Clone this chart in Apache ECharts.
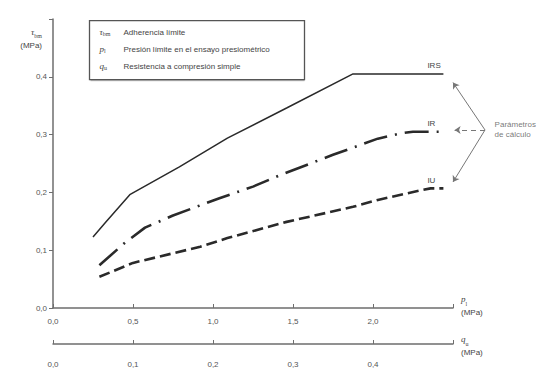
<!DOCTYPE html>
<html>
<head>
<meta charset="utf-8">
<script src="https://cdn.jsdelivr.net/npm/echarts@6/dist/echarts.min.js"></script>
<style>
html, body { margin: 0; padding: 0; background: #fff; }
#main { width: 550px; height: 371px; }
</style>
</head>
<body>
<div id="main"></div>
<script>
// curves: x = p_l (MPa), y = tau_bm (MPa)
const seriesNames = ['IRS', 'IR', 'IU'];
const irsX = [0.25, 0.325, 0.48, 0.79, 1.09, 1.46, 1.875, 2.44];
const irsY = [0.123, 0.147, 0.196, 0.244, 0.294, 0.346, 0.405, 0.405];
const irX = [0.29, 0.45, 0.575, 0.75, 1.04, 1.25, 1.42, 1.75, 2.03, 2.17, 2.25, 2.44];
const irY = [0.074, 0.113, 0.139, 0.16, 0.19, 0.21, 0.23, 0.265, 0.293, 0.302, 0.305, 0.305];
const iuX = [0.29, 0.5, 0.92, 1.09, 1.46, 1.875, 2.03, 2.29, 2.36, 2.44];
const iuY = [0.054, 0.078, 0.106, 0.121, 0.149, 0.175, 0.187, 0.203, 0.207, 0.207];

const plTicks = [0, 0.5, 1, 1.5, 2];
const quTicks = [0, 0.1, 0.2, 0.3, 0.4];
const tauTicks = [0, 0.1, 0.2, 0.3, 0.4];

const legendSymbols = [['τ', 'bm'], ['p', 'l'], ['q', 'u']];
const legendTexts = [
  'Adherencia límite',
  'Presión límite en el ensayo presiométrico',
  'Resistencia a compresión simple'
];

// "Parámetros de cálculo" pointer
const noteText = 'Parámetros\nde cálculo';
const noteApex = [2.7, 0.308];
const noteTargets = [[2.5, 0.39], [2.51, 0.308], [2.5, 0.218]];

const ink = '#2a2a2a';
const axisGray = '#6e6e6e';
const fmt = (v) => v.toFixed(1).replace('.', ',');
const pairs = (xs, ys) => xs.map((x, i) => [x, ys[i]]);

const nameRich = {
  i: { fontSize: 9, color: '#444', fontStyle: 'italic', fontFamily: 'Liberation Serif', lineHeight: 15 },
  s: { fontSize: 6, color: '#444', fontFamily: 'Liberation Serif', verticalAlign: 'bottom', lineHeight: 15 },
  u: { fontSize: 8, color: '#444', fontFamily: 'Liberation Sans', lineHeight: 12 }
};
const tickLabel = { color: '#555', fontSize: 8, fontFamily: 'Liberation Sans' };
const endLabel = {
  show: true, formatter: '{a}', offset: [-24, -8],
  color: '#444', fontSize: 8, fontFamily: 'Liberation Sans'
};

const chart = echarts.init(document.getElementById('main'), null, { renderer: 'svg' });

chart.setOption({
  animation: false,
  backgroundColor: '#fff',
  grid: { left: 53, right: 97, top: 19, bottom: 63 },
  xAxis: [
    {
      type: 'value', min: 0, max: 2.5, interval: 0.5,
      axisLine: { lineStyle: { color: axisGray, width: 1.5 } },
      axisTick: { inside: true, length: 4, lineStyle: { color: axisGray } },
      axisLabel: Object.assign({ margin: 9, customValues: plTicks, formatter: fmt }, tickLabel),
      splitLine: { show: false },
      name: '{i|p}{s|l}\n{u|(MPa)}',
      nameLocation: 'end', nameGap: 8,
      nameTextStyle: { align: 'left', verticalAlign: 'middle', padding: [0, 0, 6, 0], rich: nameRich }
    },
    {
      type: 'value', min: 0, max: 0.5, interval: 0.1, position: 'bottom', offset: 36,
      axisLine: { lineStyle: { color: axisGray, width: 1.5 } },
      axisTick: { inside: true, length: 4, lineStyle: { color: axisGray } },
      axisLabel: Object.assign({ margin: 16, customValues: quTicks, formatter: fmt }, tickLabel),
      splitLine: { show: false },
      name: '{i|q}{s|u}\n{u|(MPa)}',
      nameLocation: 'end', nameGap: 8,
      nameTextStyle: { align: 'left', verticalAlign: 'middle', padding: [2, 0, 0, 0], rich: nameRich }
    }
  ],
  yAxis: {
    type: 'value', min: 0, max: 0.5, interval: 0.1,
    axisLine: { show: true, lineStyle: { color: axisGray, width: 1.5 } },
    axisTick: { show: true, length: 4, lineStyle: { color: axisGray } },
    axisLabel: Object.assign({ margin: 6, customValues: tauTicks, formatter: fmt }, tickLabel),
    splitLine: { show: false },
    name: '{i|τ}{s|bm}\n{u|(MPa)}',
    nameLocation: 'end', nameGap: -32,
    nameTextStyle: { align: 'right', verticalAlign: 'bottom', padding: [0, 11, 0, 0], rich: nameRich }
  },
  graphic: [
    {
      type: 'group', left: 88, top: 20,
      children: [
        { type: 'rect', shape: { x: 0, y: 0, width: 215, height: 59 },
          style: { fill: '#fff', stroke: '#555', lineWidth: 1.3 } },
        { type: 'line', shape: { x1: 1, y1: 60, x2: 215, y2: 60 }, style: { stroke: '#999', lineWidth: 1 } }
      ].concat(legendTexts.map((t, i) => ({
        type: 'text', x: 10, y: 6 + i * 17,
        style: {
          text: '{i|' + legendSymbols[i][0] + '}{s|' + legendSymbols[i][1] + '}',
          rich: {
            i: { fontSize: 9, fill: '#444', fontStyle: 'italic', fontFamily: 'Liberation Serif' },
            s: { fontSize: 6, fill: '#444', fontFamily: 'Liberation Serif', verticalAlign: 'bottom', padding: [4, 0, 0, 0] }
          }
        }
      }))).concat(legendTexts.map((t, i) => ({
        type: 'text', x: 34, y: 8 + i * 17,
        style: { text: t, fontSize: 8, fill: '#444', fontFamily: 'Liberation Sans' }
      })))
    }
  ],
  series: [
    {
      name: seriesNames[0], type: 'line', data: pairs(irsX, irsY),
      showSymbol: false, smooth: false,
      lineStyle: { color: ink, width: 1.5 }, endLabel: endLabel
    },
    {
      name: seriesNames[1], type: 'line', data: pairs(irX, irY),
      showSymbol: false, smooth: false,
      lineStyle: { color: ink, width: 2.6, type: [24, 8, 2, 8] }, endLabel: endLabel
    },
    {
      name: seriesNames[2], type: 'line', data: pairs(iuX, iuY),
      showSymbol: false, smooth: false,
      lineStyle: { color: ink, width: 2.6, type: [11, 5] }, endLabel: endLabel
    },
    {
      type: 'lines', coordinateSystem: 'cartesian2d', clip: false, silent: true,
      symbol: ['none', 'arrow'], symbolSize: 6,
      lineStyle: { color: '#777', width: 1, opacity: 1 },
      data: noteTargets.map((t, i) => ({
        coords: [noteApex, t],
        lineStyle: i === 1 ? { type: [5, 4] } : {}
      }))
    },
    {
      type: 'scatter', clip: false, silent: true, symbolSize: 0,
      data: [[noteApex[0] + 0.06, noteApex[1]]],
      label: { show: true, position: 'right', distance: 0, formatter: noteText,
        color: '#555', fontSize: 8, lineHeight: 10, fontFamily: 'Liberation Sans' }
    }
  ]
});
</script>
</body>
</html>
